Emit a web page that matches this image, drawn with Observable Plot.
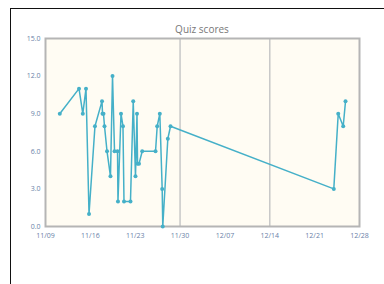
<!DOCTYPE html>
<html><head><meta charset="utf-8">
<script src="https://cdn.jsdelivr.net/npm/d3@7"></script>
<script src="https://cdn.jsdelivr.net/npm/@observablehq/plot@0.6"></script>
<style>
body{margin:0;background:#fff;font-family:"Open Sans",sans-serif;}
#wrap{position:relative;width:384px;height:284px;overflow:hidden;}
#card{position:absolute;left:10px;top:8px;width:500px;height:400px;border-top:1.5px solid #111;border-left:1.5px solid #111;}
#title{position:absolute;left:0;width:404px;top:22px;text-align:center;font-size:10px;color:#777;}
svg{position:absolute;left:0;top:0;overflow:visible;}
</style></head>
<body><div id="wrap"><div id="card"></div><div id="title">Quiz scores</div></div>
<script>
const times = ["2015-11-11T05:30","2015-11-14T05:30","2015-11-14T19:40","2015-11-15T07:40","2015-11-15T19:00","2015-11-16T17:15","2015-11-17T19:40","2015-11-17T21:35","2015-11-18T01:10","2015-11-18T05:00","2015-11-18T14:25","2015-11-19T03:20","2015-11-19T11:00","2015-11-19T18:30","2015-11-20T05:45","2015-11-20T07:25","2015-11-20T18:45","2015-11-21T02:10","2015-11-21T06:00","2015-11-22T06:15","2015-11-22T16:35","2015-11-23T01:00","2015-11-23T06:40","2015-11-23T08:40","2015-11-23T14:10","2015-11-24T02:10","2015-11-26T04:05","2015-11-26T10:20","2015-11-26T20:10","2015-11-27T05:00","2015-11-27T07:10","2015-11-28T02:10","2015-11-28T12:15","2015-12-23T23:45","2015-12-24T16:20","2015-12-25T11:00","2015-12-25T19:40"];
const scores = [9,11,9,11,1,8,10,9,9,8,6,4,12,6,6,2,9,8,2,2,10,4,9,5,5,6,6,8,9,3,0,7,8,3,9,8,10];
const xTicks = ["2015-11-09","2015-11-16","2015-11-23","2015-11-30","2015-12-07","2015-12-14","2015-12-21","2015-12-28"];
const gridDates = ["2015-11-30","2015-12-14"];
const yTicks = [0,3,6,9,12,15];

const parse = s => new Date(s + (s.length > 10 ? ":00Z" : "T00:00:00Z"));
const data = times.map((t,i) => ({t: parse(t), v: scores[i]}));
const xt = xTicks.map(parse);
const gd = gridDates.map(parse);
const fmt = d3.utcFormat("%m/%d");

const chart = Plot.plot({
  width: 384, height: 284,
  marginLeft: 45, marginRight: 25, marginTop: 38, marginBottom: 58,
  style: {background: "transparent", fontSize: "7px", fontFamily: "Open Sans, sans-serif"},
  x: {type: "utc", domain: [xt[0], xt[xt.length-1]], ticks: xt, tickFormat: fmt, label: null, tickSize: 0, tickPadding: 7},
  y: {domain: [0, 15], ticks: yTicks, tickFormat: d => d.toFixed(1), label: null, tickSize: 0, tickPadding: 5},
  marks: [
    Plot.frame({fill: "#fffcf3", stroke: "none"}),
    Plot.ruleX(gd, {stroke: "#c8c8c8", strokeWidth: 1.5, strokeOpacity: 1}),
    Plot.frame({stroke: "#b5b5b5", strokeWidth: 2}),
    Plot.axisX({ticks: xt, tickFormat: fmt, tickSize: 0, tickPadding: 7, fill: "#6a7fa8", label: null}),
    Plot.axisY({ticks: yTicks, tickFormat: d => d.toFixed(1), tickSize: 0, tickPadding: 5, fill: "#6a7fa8", label: null}),
    Plot.line(data, {x: "t", y: "v", stroke: "#45b0c8", strokeWidth: 1.5}),
    Plot.dot(data, {x: "t", y: "v", fill: "#45b0c8", r: 2})
  ]
});
document.getElementById("wrap").appendChild(chart);
</script></body></html>
